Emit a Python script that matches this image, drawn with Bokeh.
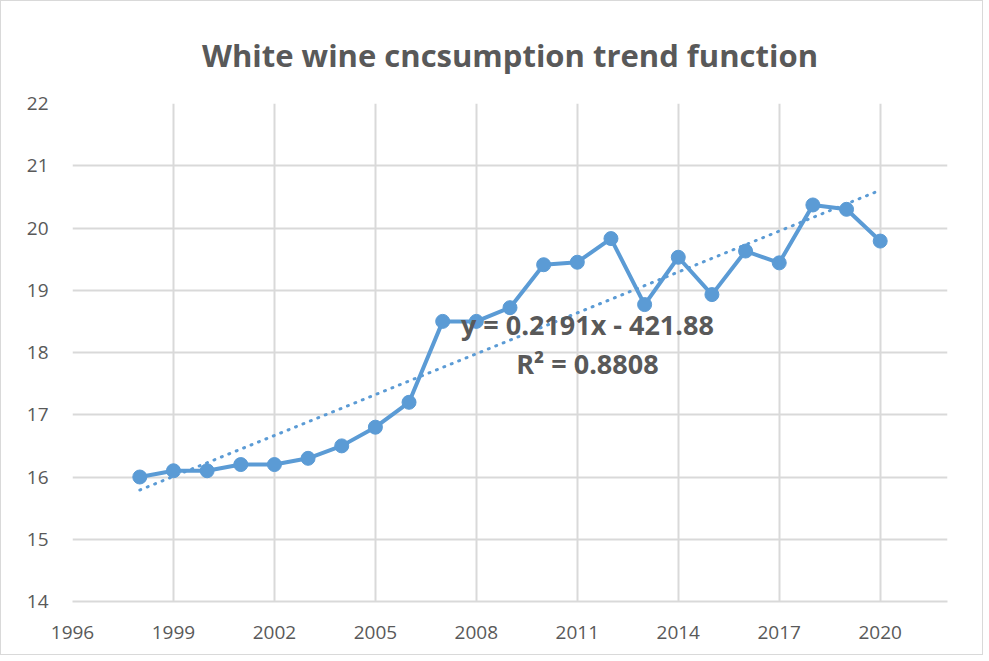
import numpy as np
from bokeh.plotting import figure
from bokeh.models import Label, FixedTicker, Title
from bokeh.embed import file_html
from bokeh.resources import INLINE

years = [1998, 1999, 2000, 2001, 2002, 2003, 2004, 2005, 2006, 2007, 2008,
         2009, 2010, 2011, 2012, 2013, 2014, 2015, 2016, 2017, 2018, 2019, 2020]
consumption = [16.0, 16.1, 16.1, 16.2, 16.2, 16.3, 16.5, 16.8, 17.2, 18.5, 18.5,
               18.72, 19.41, 19.45, 19.83, 18.77, 19.53, 18.93, 19.63, 19.44, 20.37, 20.3, 19.79]
x_ticks = [1996, 1999, 2002, 2005, 2008, 2011, 2014, 2017, 2020]
y_ticks = [14, 15, 16, 17, 18, 19, 20, 21, 22]
title_text = "White wine cncsumption trend function"
equation_text = "y = 0.2191x - 421.88"
r2_text = "R² = 0.8808"

BLUE = "#5b9bd5"
GRID = "#d9d9d9"
TXT = "#595959"
FONT = "Open Sans"

p = figure(width=983, height=655, output_backend="svg", toolbar_location=None,
           x_range=(1996, 2022), y_range=(14, 22),
           min_border_left=71, min_border_right=37, min_border_top=102, min_border_bottom=55)
p.title = Title(text=title_text, align="center", text_font=FONT, text_font_size="31px",
                text_color=TXT, text_font_style="bold", standoff=56)
p.outline_line_color = None
p.styles = {"border": "1px solid #d9d9d9"}

p.xaxis.ticker = FixedTicker(ticks=x_ticks)
p.yaxis.ticker = FixedTicker(ticks=y_ticks)
for ax in (p.xaxis, p.yaxis):
    ax.major_tick_line_color = None
    ax.minor_tick_line_color = None
    ax.axis_line_color = GRID
    ax.axis_line_width = 2
    ax.major_label_text_font = FONT
    ax.major_label_text_font_size = "19px"
    ax.major_label_text_color = TXT
    ax.major_label_standoff = 18
p.yaxis.axis_line_color = None

p.xgrid.ticker = FixedTicker(ticks=x_ticks)
p.ygrid.ticker = FixedTicker(ticks=y_ticks)
p.grid.grid_line_color = GRID
p.grid.grid_line_width = 2

# trend line (linear least squares)
slope, intercept = np.polyfit(years, consumption, 1)
tx = np.array([years[0], years[-1]], dtype=float)
p.line(tx, slope * tx + intercept, line_color=BLUE, line_width=3,
       line_dash="1 7", line_cap="round")

p.line(years, consumption, line_color=BLUE, line_width=4)
p.scatter(years, consumption, size=14, fill_color=BLUE, line_color=BLUE)

p.add_layout(Label(x=2011.3, y=18.45, text=equation_text, text_align="center",
                   text_baseline="middle", text_font=FONT, text_font_size="27px",
                   text_font_style="bold", text_color=TXT))
p.add_layout(Label(x=2011.3, y=17.82, text=r2_text, text_align="center",
                   text_baseline="middle", text_font=FONT, text_font_size="27px",
                   text_font_style="bold", text_color=TXT))

open("out.html", "w").write(file_html(p, INLINE))
